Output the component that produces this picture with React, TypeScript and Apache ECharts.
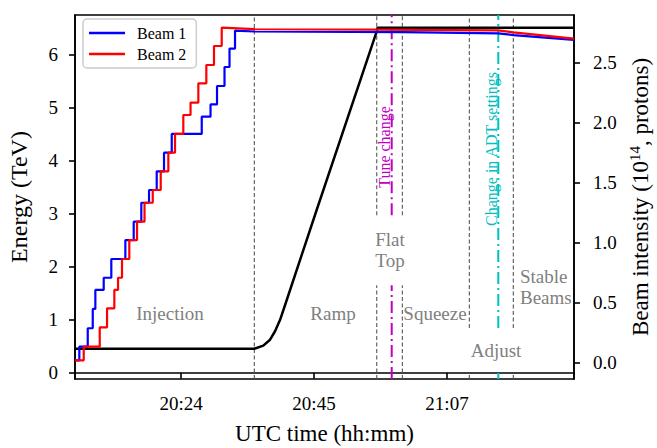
import React, { useEffect, useRef } from 'react';
import * as echarts from 'echarts';

const FONT = "'Liberation Serif', 'Times New Roman', Times, serif";

// x values: minutes after 20:00 UTC
const xMin = 6.86;
const xMax = 87.53;
const xTickTimes = [24, 45.5, 67];
const energyTicks = [0, 1, 2, 3, 4, 5, 6];
const intensityTicks = [0, 0.5, 1, 1.5, 2, 2.5];

// Energy (TeV)
const energyTimes = [6.86, 35.85, 37.3, 38.39, 39.2, 40.0, 40.81, 45.94, 55.64, 55.77, 87.53];
const energyValues = [0.45, 0.45, 0.51, 0.62, 0.78, 0.99, 1.27, 3.07, 6.43, 6.5, 6.5];

// Beam 1 intensity (1e14 p): injection steps, then tail
const beam1StepTimes = [6.86, 7.56, 8.92, 9.73, 10.15, 11.5, 12.73, 15.0, 16.35, 17.58, 18.83, 20.07, 21.25, 22.5, 27.35, 28.77, 29.82, 31.03, 31.84, 32.73];
const beam1StepValues = [0.02, 0.133, 0.287, 0.448, 0.606, 0.708, 0.864, 1.022, 1.175, 1.333, 1.439, 1.595, 1.75, 1.906, 2.05, 2.152, 2.306, 2.464, 2.618, 2.768];
const beam1TailTimes = [35.85, 59.78, 75.29, 77.72, 87.53];
const beam1TailValues = [2.76, 2.755, 2.745, 2.73, 2.69];

// Beam 2 intensity
const beam2StepTimes = [6.86, 8.27, 10.86, 12.04, 13.22, 13.82, 14.46, 15.64, 16.89, 18.1, 19.43, 20.72, 21.95, 23.03, 24.37, 25.54, 26.8, 28.09, 29.33, 30.58];
const beam2StepValues = [0.02, 0.133, 0.295, 0.453, 0.606, 0.708, 0.864, 1.022, 1.175, 1.333, 1.439, 1.595, 1.75, 1.906, 2.064, 2.168, 2.328, 2.481, 2.639, 2.793];
const beam2TailTimes = [35.85, 55.64, 75.29, 77.72, 87.53];
const beam2TailValues = [2.78, 2.775, 2.77, 2.753, 2.7];

// Phase boundaries (minutes) and the energy-axis extents of their dashed segments
const phaseBoundaryTimes = [35.85, 55.64, 59.78, 70.61, 77.72];
const phaseBoundarySpans = [
  [[-0.12, 6.74]],
  [[-0.12, 1.648], [2.966, 6.74]],
  [[-0.12, 1.648], [2.966, 6.74]],
  [[-0.12, -0.006], [0.84, 6.74]],
  [[-0.12, -0.006], [0.84, 6.74]],
];
const tuneChangeTime = 58.06;
const tuneChangeSpans = [[-0.12, 1.648], [2.966, 6.74]];
const adtChangeTime = 75.29;
const adtChangeSpans = [[-0.12, -0.006], [0.84, 6.74]];

function stepData(times: number[], values: number[], tailT: number[], tailV: number[]) {
  const out: number[][] = [];
  for (let i = 0; i < times.length; i++) {
    if (i > 0) out.push([times[i], values[i - 1]]);
    out.push([times[i], values[i]]);
  }
  for (let i = 0; i < tailT.length; i++) out.push([tailT[i], tailV[i]]);
  return out;
}

function fmtTime(v: number) {
  const total = 20 * 60 + v;
  const h = Math.floor(total / 60);
  const m = Math.floor(total % 60);
  return `${h}:${m < 10 ? '0' + m : m}`;
}

function vseg(x: number, span: number[], color: string, type: any, width: number) {
  return {
    type: 'line',
    xAxisIndex: 0,
    yAxisIndex: 0,
    data: [[x, span[0]], [x, span[1]]],
    symbol: 'none',
    silent: true,
    z: 1,
    lineStyle: { color, type, width },
  };
}

export default function App() {
  const ref = useRef<HTMLDivElement>(null);
  useEffect(() => {
    if (!ref.current) return;
    const chart = echarts.init(ref.current, null, { renderer: 'svg' });
    const segs: any[] = [];
    phaseBoundaryTimes.forEach((t, i) => {
      phaseBoundarySpans[i].forEach((s) => segs.push(vseg(t, s, '#555555', [4, 2.5], 1.1)));
    });
    tuneChangeSpans.forEach((s) => segs.push(vseg(tuneChangeTime, s, '#bf00bf', [12, 4, 2, 4], 2)));
    adtChangeSpans.forEach((s) => segs.push(vseg(adtChangeTime, s, '#00bfbf', [12, 4, 2, 4], 2)));

    const gray = '#808080';
    const phaseText = (text: string, x: number, y: number, align = 'center') => ({
      type: 'text',
      x,
      y,
      silent: true,
      style: { text, fill: gray, fontFamily: FONT, fontSize: 19, textAlign: align, textVerticalAlign: 'middle', lineHeight: 21 },
    });

    chart.setOption({
      animation: false,
      backgroundColor: '#ffffff',
      textStyle: { fontFamily: FONT },
      grid: {
        left: 75, top: 15, width: 499, height: 364,
        containLabel: false, outerBoundsMode: 'none',
        show: true, borderColor: '#000', borderWidth: 1.6, backgroundColor: 'transparent',
      },
      legend: {
        orient: 'vertical',
        left: 83,
        top: 19,
        data: ['Beam 1', 'Beam 2'],
        icon: 'rect',
        itemWidth: 36,
        itemHeight: 2.5,
        itemGap: 5,
        padding: [6, 10, 6, 6],
        backgroundColor: 'rgba(255,255,255,0.8)',
        borderColor: '#cccccc',
        borderWidth: 1.5,
        borderRadius: 4,
        textStyle: { fontFamily: FONT, fontSize: 16, color: '#000', padding: [0, 0, 0, 7] },
      },
      xAxis: {
        type: 'value',
        min: xMin,
        max: xMax,
        name: 'UTC time (hh:mm)',
        nameLocation: 'middle',
        nameGap: 43,
        nameTextStyle: { fontFamily: FONT, fontSize: 23, color: '#000' },
        axisLine: { lineStyle: { color: '#000', width: 1.6 } },
        axisTick: { customValues: xTickTimes, length: 6, lineStyle: { color: '#000', width: 1.6 } },
        axisLabel: { customValues: xTickTimes, formatter: (v: number) => fmtTime(v), fontFamily: FONT, fontSize: 19, color: '#000', margin: 15 },
        splitLine: { show: false },
      },
      yAxis: [
        {
          type: 'value',
          position: 'left',
          min: -0.12,
          max: 6.74,
          name: 'Energy (TeV)',
          nameLocation: 'middle',
          nameRotate: 90,
          nameGap: 44,
          nameTextStyle: { fontFamily: FONT, fontSize: 24, color: '#000' },
          axisLine: { show: true, lineStyle: { color: '#000', width: 1.6 } },
          axisTick: { show: true, customValues: energyTicks, length: 6, lineStyle: { color: '#000', width: 1.6 } },
          axisLabel: { customValues: energyTicks, fontFamily: FONT, fontSize: 19, color: '#000', margin: 17 },
          splitLine: { show: false },
        },
        {
          type: 'value',
          position: 'right',
          min: -0.136,
          max: 2.8975,
          name: 'Beam intensity (10{sup|14}, protons)',
          nameLocation: 'middle',
          nameRotate: 90,
          nameGap: 52,
          nameTextStyle: {
            fontFamily: FONT,
            fontSize: 23,
            color: '#000',
            rich: { sup: { fontFamily: FONT, fontSize: 15, color: '#000', verticalAlign: 'top', padding: [0, 0, 10, 0] } },
          },
          axisLine: { show: true, lineStyle: { color: '#000', width: 1.6 } },
          axisTick: { show: true, customValues: intensityTicks, length: 6, lineStyle: { color: '#000', width: 1.6 } },
          axisLabel: { customValues: intensityTicks, formatter: (v: number) => v.toFixed(1), fontFamily: FONT, fontSize: 19, color: '#000', margin: 19 },
          splitLine: { show: false },
        },
      ],
      graphic: [
        phaseText('Injection', 170, 313),
        phaseText('Ramp', 333, 313),
        phaseText('Flat\nTop', 390, 250),
        phaseText('Squeeze', 435, 313),
        phaseText('Adjust', 496, 350),
        phaseText('Stable\nBeams', 520, 287, 'left'),
        {
          type: 'text', x: 384, y: 147, rotation: Math.PI / 2, silent: true,
          style: { text: 'Tune change', fill: '#bf00bf', fontFamily: FONT, fontSize: 16, textAlign: 'center', textVerticalAlign: 'middle' },
        },
        {
          type: 'text', x: 491, y: 149, rotation: Math.PI / 2, silent: true,
          style: { text: 'Change in ADT settings', fill: '#00bfbf', fontFamily: FONT, fontSize: 16, textAlign: 'center', textVerticalAlign: 'middle' },
        },
      ],
      series: [
        ...segs,
        {
          name: 'Energy',
          type: 'line',
          yAxisIndex: 0,
          data: energyTimes.map((t, i) => [t, energyValues[i]]),
          symbol: 'none',
          z: 3,
          lineStyle: { color: '#000', width: 2.5 },
          itemStyle: { color: '#000' },
        },
        {
          name: 'Beam 1',
          type: 'line',
          yAxisIndex: 1,
          data: stepData(beam1StepTimes, beam1StepValues, beam1TailTimes, beam1TailValues),
          symbol: 'none',
          z: 4,
          lineStyle: { color: '#0000ff', width: 2.2 },
          itemStyle: { color: '#0000ff' },
        },
        {
          name: 'Beam 2',
          type: 'line',
          yAxisIndex: 1,
          data: stepData(beam2StepTimes, beam2StepValues, beam2TailTimes, beam2TailValues),
          symbol: 'none',
          z: 5,
          lineStyle: { color: '#ff0000', width: 2.2 },
          itemStyle: { color: '#ff0000' },
        },
      ],
    });
    return () => chart.dispose();
  }, []);
  return <div ref={ref} style={{ position: 'absolute', left: 0, top: 0, width: 657, height: 448 }} />;
}
